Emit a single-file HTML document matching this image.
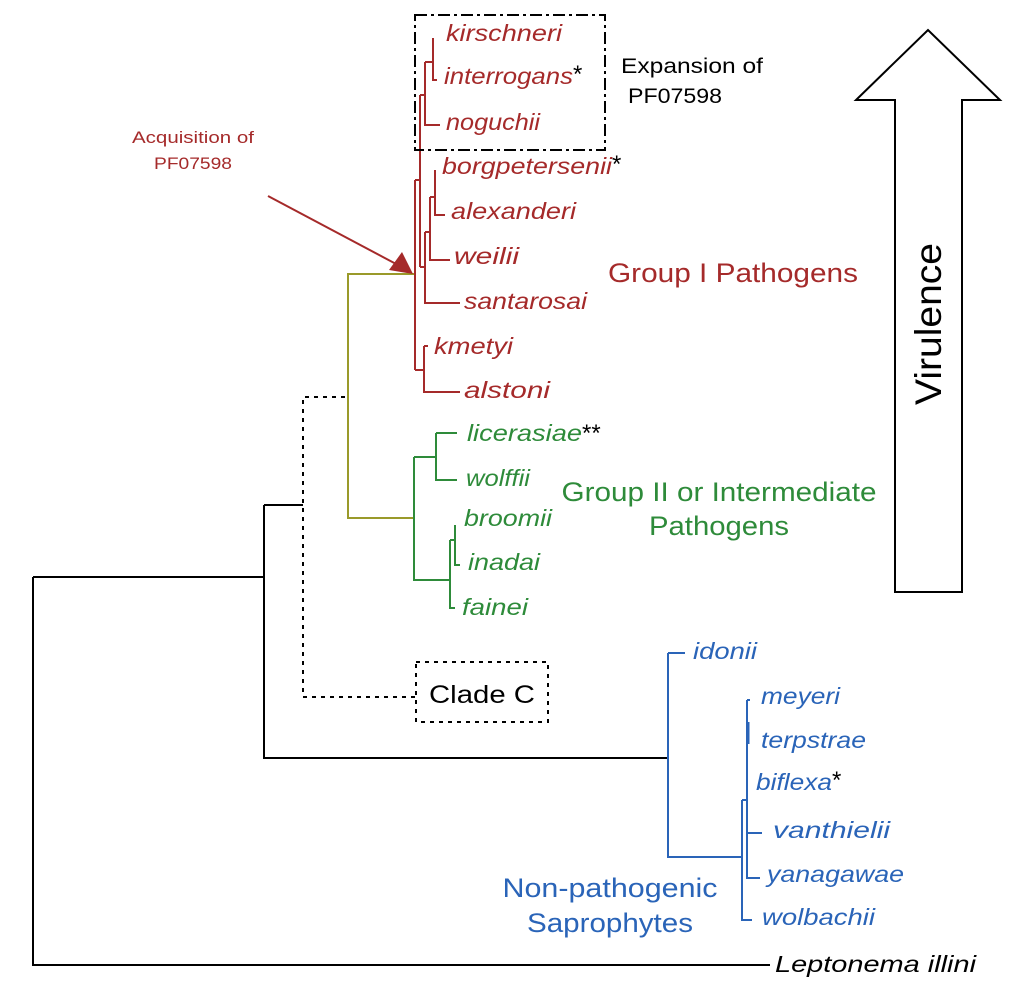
<!DOCTYPE html>
<html><head><meta charset="utf-8"><style>
html,body{margin:0;padding:0;background:#fff;}
svg{display:block;}
text{font-family:"Liberation Sans",sans-serif;}
.r{fill:#a52a2a;font-style:italic;font-size:23px;}
.g{fill:#2e8b3a;font-style:italic;font-size:23px;}
.b{fill:#2a64b8;font-style:italic;font-size:23px;}
</style></head><body>
<svg width="1024" height="986" viewBox="0 0 1024 986">
<g stroke="#000" stroke-width="2" fill="none">
<path d="M33 577 V965 H770 M33 577 H264 M264 505 V758 H668 M264 505 H303"/>
</g>
<g stroke="#000" stroke-width="2" fill="none" stroke-dasharray="4,5">
<path d="M345 397 H303 V697 H415"/>
<rect x="416" y="662" width="132" height="60"/>
</g>
<path d="M414 274 H348 V518 H414" stroke="#9a9a2a" stroke-width="2" fill="none"/>
<g stroke="#a52a2a" stroke-width="2" fill="none">
<path d="M415 180 V370"/>
<path d="M415 180 H420 M420 95 V267 M415 370 H424"/>
<path d="M420 95 H425 M425 62 V125 H440 M425 62 H433 M433 38 V80 H437"/>
<path d="M420 267 H425 M425 232 V303 H460 M425 232 H430 M430 197 V260 H450 M430 197 H435 M435 170 V215 H445"/>
<path d="M424 346 V392 H460 M424 346 H428"/>
<path d="M268 196 L398 265"/>
</g>
<polygon points="413,274 389,270 402,252" fill="#a52a2a"/>
<g stroke="#2e8b3a" stroke-width="2" fill="none">
<path d="M414 457 V580 H450 M414 457 H436 M436 433 V480 H457 M436 433 H457 M450 540 V608 H455 M450 540 H455 M455 525 V565 H460"/>
</g>
<g stroke="#2a64b8" stroke-width="2" fill="none">
<path d="M668 653 V857 H742 M668 653 H685 M742 800 V920 H752 M742 800 H747 M747 700 V878 H760 M747 833 H762 M747 700 H750"/>
<path d="M748 722 V744" stroke-width="3"/>
</g>
<rect x="415" y="15" width="190" height="135" fill="none" stroke="#000" stroke-width="2" stroke-dasharray="12,4,3,4"/>
<path d="M895 592 V100 H856 L928 30 L1000 100 H962 V592 Z" fill="#fff" stroke="#000" stroke-width="2"/>
<text x="0" y="0" font-size="37" transform="translate(941,324) rotate(-90)" text-anchor="middle" textLength="162" lengthAdjust="spacingAndGlyphs">Virulence</text>
<text class="r" x="446" y="41" textLength="116" lengthAdjust="spacingAndGlyphs">kirschneri</text>
<text class="r" x="444" y="84" textLength="129" lengthAdjust="spacingAndGlyphs">interrogans</text><text x="573" y="82" font-size="24">*</text>
<text class="r" x="446" y="130" textLength="94" lengthAdjust="spacingAndGlyphs">noguchii</text>
<text class="r" x="442" y="174" textLength="170" lengthAdjust="spacingAndGlyphs">borgpetersenii</text><text x="612" y="172" font-size="24">*</text>
<text class="r" x="451" y="219" textLength="125" lengthAdjust="spacingAndGlyphs">alexanderi</text>
<text class="r" x="454" y="264" textLength="65" lengthAdjust="spacingAndGlyphs">weilii</text>
<text class="r" x="464" y="309" textLength="123" lengthAdjust="spacingAndGlyphs">santarosai</text>
<text class="r" x="434" y="354" textLength="79" lengthAdjust="spacingAndGlyphs">kmetyi</text>
<text class="r" x="464" y="398" textLength="86" lengthAdjust="spacingAndGlyphs">alstoni</text>
<text x="621" y="73" font-size="21" textLength="142" lengthAdjust="spacingAndGlyphs">Expansion of</text>
<text x="628" y="103" font-size="21" textLength="94" lengthAdjust="spacingAndGlyphs">PF07598</text>
<text x="193" y="143" font-size="17" fill="#a52a2a" text-anchor="middle" textLength="122" lengthAdjust="spacingAndGlyphs">Acquisition of</text>
<text x="193" y="169" font-size="17" fill="#a52a2a" text-anchor="middle" textLength="78" lengthAdjust="spacingAndGlyphs">PF07598</text>
<text x="608" y="282" font-size="27" fill="#a52a2a" textLength="250" lengthAdjust="spacingAndGlyphs">Group I Pathogens</text>
<text class="g" x="467" y="441" textLength="115" lengthAdjust="spacingAndGlyphs">licerasiae</text><text x="582" y="441" font-size="24">**</text>
<text class="g" x="466" y="486" textLength="64" lengthAdjust="spacingAndGlyphs">wolffii</text>
<text class="g" x="464" y="526" textLength="88" lengthAdjust="spacingAndGlyphs">broomii</text>
<text class="g" x="468" y="570" textLength="72" lengthAdjust="spacingAndGlyphs">inadai</text>
<text class="g" x="462" y="615" textLength="66" lengthAdjust="spacingAndGlyphs">fainei</text>
<text x="719" y="501" font-size="27" fill="#2e8b3a" text-anchor="middle" textLength="315" lengthAdjust="spacingAndGlyphs">Group II or Intermediate</text>
<text x="719" y="535" font-size="27" fill="#2e8b3a" text-anchor="middle" textLength="140" lengthAdjust="spacingAndGlyphs">Pathogens</text>
<text x="482" y="703" font-size="25" text-anchor="middle" textLength="106" lengthAdjust="spacingAndGlyphs">Clade C</text>
<text class="b" x="693" y="659" textLength="64" lengthAdjust="spacingAndGlyphs">idonii</text>
<text class="b" x="761" y="704" textLength="79" lengthAdjust="spacingAndGlyphs">meyeri</text>
<text class="b" x="761" y="748" textLength="105" lengthAdjust="spacingAndGlyphs">terpstrae</text>
<text class="b" x="756" y="790" textLength="76" lengthAdjust="spacingAndGlyphs">biflexa</text><text x="832" y="788" font-size="24">*</text>
<text class="b" x="773" y="838" textLength="117" lengthAdjust="spacingAndGlyphs">vanthielii</text>
<text class="b" x="767" y="882" textLength="137" lengthAdjust="spacingAndGlyphs">yanagawae</text>
<text class="b" x="762" y="925" textLength="113" lengthAdjust="spacingAndGlyphs">wolbachii</text>
<text x="610" y="897" font-size="27" fill="#2a64b8" text-anchor="middle" textLength="215" lengthAdjust="spacingAndGlyphs">Non-pathogenic</text>
<text x="610" y="932" font-size="27" fill="#2a64b8" text-anchor="middle" textLength="166" lengthAdjust="spacingAndGlyphs">Saprophytes</text>
<text x="775" y="972" font-size="23" font-style="italic" textLength="201" lengthAdjust="spacingAndGlyphs">Leptonema illini</text>
</svg>
</body></html>
